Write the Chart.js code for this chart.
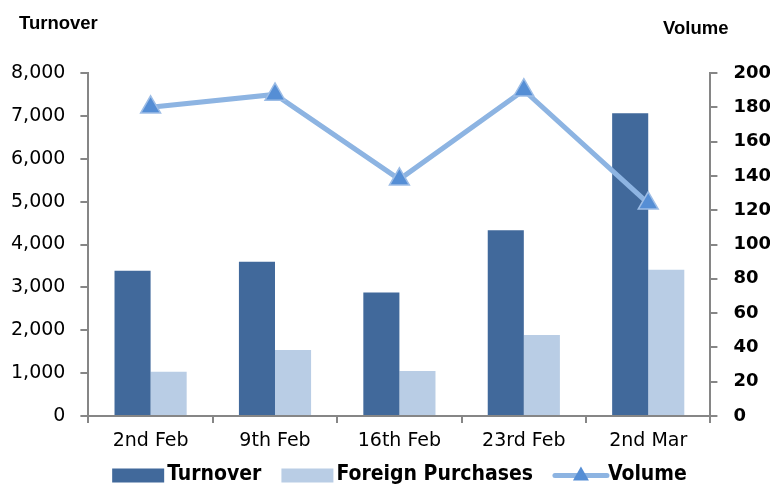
<!DOCTYPE html>
<html>
<head>
<meta charset="utf-8">
<script src="https://cdn.jsdelivr.net/npm/chart.js@4"></script>
<style>
  body { margin: 0; background: #fff; }
  #wrap { position: relative; width: 770px; height: 486px; overflow: hidden; }
  .ttl { position: absolute; font-family: "Liberation Sans", Arial, sans-serif; font-weight: bold; font-size: 18.5px; color: #000; line-height: 21px; }
</style>
</head>
<body>
<div id="wrap">
  <canvas id="chart" width="770" height="486"></canvas>
  <div class="ttl" style="left:19px; top:12px;">Turnover</div>
  <div class="ttl" style="left:663px; top:17px;">Volume</div>
</div>
<script>
// Chart data
const weeks = ['2nd Feb', '9th Feb', '16th Feb', '23rd Feb', '2nd Mar'];
const turnover = [3390, 3600, 2880, 4330, 7060];
const foreignPurchases = [1030, 1540, 1050, 1890, 3410];
const volume = [180, 187.5, 138, 190, 124];

const turnoverColor = '#41699B';
const foreignColor = '#B9CDE5';
const volumeColor = '#8DB4E2';
const markerColor = '#558ED5';
const axisGrey = '#868686';
const tickFont = '"DejaVu Sans", sans-serif';
const legendSize = 21;
const itemGap = 16; // extra space in front of each legend marker

// Legend markers: boxes for the bars, line + triangle for Volume
const legendMarkers = {
  id: 'legendMarkers',
  afterDraw(chart) {
    const legend = chart.legend;
    if (!legend || !legend.legendHitBoxes) return;
    const ctx = chart.ctx;
    const boxes = legend.legendHitBoxes;
    ctx.save();
    [turnoverColor, foreignColor].forEach((c, i) => {
      const b = boxes[i];
      ctx.fillStyle = c;
      ctx.fillRect(b.left + itemGap, b.top + b.height / 2 - 6, 52, 14);
    });
    const v = boxes[2];
    const cy = v.top + v.height / 2 + 1;
    ctx.strokeStyle = volumeColor;
    ctx.lineWidth = 5;
    ctx.lineCap = 'round';
    ctx.beginPath();
    ctx.moveTo(v.left + itemGap + 2, cy);
    ctx.lineTo(v.left + itemGap + 54, cy);
    ctx.stroke();
    const mx = v.left + itemGap + 28;
    ctx.fillStyle = markerColor;
    ctx.beginPath();
    ctx.moveTo(mx, cy - 9);
    ctx.lineTo(mx + 8, cy + 5);
    ctx.lineTo(mx - 8, cy + 5);
    ctx.closePath();
    ctx.fill();
    ctx.restore();
  }
};

new Chart('chart', {
  data: {
    labels: weeks,
    datasets: [
      {
        type: 'line',
        label: 'Volume',
        data: volume,
        yAxisID: 'y1',
        borderColor: volumeColor,
        backgroundColor: 'rgba(0,0,0,0)',
        borderWidth: 5,
        pointStyle: 'triangle',
        pointRadius: 11.5,
        pointBackgroundColor: markerColor,
        pointBorderColor: '#9DBDE6',
        pointBorderWidth: 1.5,
        order: 0
      },
      {
        type: 'bar',
        label: 'Turnover',
        data: turnover,
        yAxisID: 'y',
        backgroundColor: turnoverColor,
        order: 1
      },
      {
        type: 'bar',
        label: 'Foreign Purchases',
        data: foreignPurchases,
        yAxisID: 'y',
        backgroundColor: foreignColor,
        order: 1
      }
    ]
  },
  options: {
    responsive: false,
    animation: false,
    layout: { padding: { top: 73, left: -4, right: -17, bottom: -9 } },
    datasets: { bar: { categoryPercentage: 0.58, barPercentage: 1 } },
    plugins: {
      tooltip: { enabled: false },
      legend: {
        position: 'bottom',
        labels: {
          font: { family: '"DejaVu Sans Condensed", sans-serif', size: legendSize, weight: 'bold' },
          color: '#000',
          boxWidth: itemGap + 55 - legendSize / 2,
          boxHeight: 14,
          padding: 4,
          generateLabels() {
            return ['Turnover', 'Foreign Purchases', 'Volume'].map((t, i) => ({
              text: t, fillStyle: 'rgba(0,0,0,0)', strokeStyle: 'rgba(0,0,0,0)', lineWidth: 0, datasetIndex: [1, 2, 0][i]
            }));
          }
        }
      }
    },
    scales: {
      x: {
        offset: true,
        grid: { drawOnChartArea: false, color: axisGrey, lineWidth: 2, tickLength: 7, offset: true },
        border: { color: axisGrey, width: 2 },
        ticks: { font: { family: tickFont, size: 19, lineHeight: 1 }, color: '#000', padding: 9 }
      },
      y: {
        position: 'left',
        min: 0,
        max: 8000,
        ticks: {
          stepSize: 1000,
          font: { family: tickFont, size: 19 },
          color: '#000',
          padding: 15,
          callback: v => v.toLocaleString('en-US')
        },
        grid: { drawOnChartArea: false, color: axisGrey, lineWidth: 2, tickLength: 8 },
        border: { color: axisGrey, width: 2 }
      },
      y1: {
        position: 'right',
        min: 0,
        max: 200,
        ticks: {
          stepSize: 20,
          font: { family: tickFont, size: 18, weight: 'bold' },
          color: '#000',
          padding: 16
        },
        grid: { drawOnChartArea: false, color: axisGrey, lineWidth: 2, tickLength: 7 },
        border: { color: axisGrey, width: 2 }
      }
    }
  },
  plugins: [legendMarkers]
});
</script>
</body>
</html>
